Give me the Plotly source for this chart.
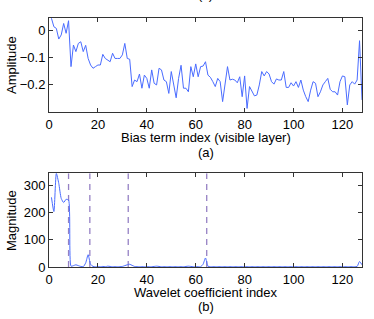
import plotly.graph_objects as go
from plotly.subplots import make_subplots

bias_index = list(range(1, 129))
amplitude = [
    0.043, 0.012, 0.006, -0.033, -0.018, 0.024, -0.012, 0.034, -0.134, -0.055,
    -0.079, -0.049, -0.043, -0.079, -0.056, -0.104, -0.128, -0.140, -0.134, -0.128,
    -0.128, -0.089, -0.104, -0.110, -0.116, -0.085, -0.104, -0.104, -0.104, -0.091,
    -0.049, -0.104, -0.107, -0.207, -0.183, -0.189, -0.161, -0.213, -0.165, -0.177,
    -0.213, -0.146, -0.195, -0.201, -0.140, -0.146, -0.183, -0.189, -0.232, -0.152,
    -0.201, -0.248, -0.177, -0.129, -0.213, -0.213, -0.226, -0.134, -0.171, -0.124,
    -0.171, -0.134, -0.132, -0.116, -0.165, -0.173, -0.189, -0.207, -0.177, -0.189,
    -0.262, -0.189, -0.134, -0.183, -0.180, -0.183, -0.193, -0.171, -0.244, -0.168,
    -0.287, -0.207, -0.226, -0.241, -0.238, -0.201, -0.152, -0.168, -0.152, -0.161,
    -0.189, -0.198, -0.179, -0.183, -0.183, -0.152, -0.210, -0.210, -0.193, -0.205,
    -0.189, -0.210, -0.183, -0.220, -0.244, -0.262, -0.220, -0.189, -0.195, -0.244,
    -0.226, -0.201, -0.189, -0.177, -0.217, -0.226, -0.226, -0.238, -0.189, -0.168,
    -0.171, -0.274, -0.201, -0.189, -0.198, -0.183, -0.039, -0.256,
]

coef_index = list(range(1, 129))
magnitude = [
    255, 203, 343, 306, 251, 236, 248, 245, 3, 5,
    8, 5, 2, 1, 15, 45, 10, 2, 1, 1,
    1, 2, 1, 3, 2, 1, 1, 1, 1, 2,
    5, 8, 10, 6, 2, 1, 1, 1, 1, 1,
    1, 1, 2, 3, 2, 1, 1, 1, 1, 1,
    1, 1, 1, 1, 1, 2, 3, 2, 1, 1,
    1, 1, 10, 33, 3, 1, 1, 1, 1, 1,
    1, 1, 1, 1, 1, 1, 1, 1, 1, 1,
    1, 1, 1, 1, 1, 1, 1, 1, 1, 1,
    1, 1, 1, 1, 1, 1, 1, 1, 1, 1,
    1, 1, 1, 1, 1, 1, 1, 1, 1, 1,
    1, 1, 1, 1, 1, 1, 1, 1, 1, 1,
    1, 1, 1, 1, 1, 2, 20, 8,
]

level_bounds = [8, 16.7, 32.4, 64.5]

x_ticks = [0, 20, 40, 60, 80, 100, 120]
amp_ticks = [0, -0.1, -0.2]
amp_tick_labels = ["0", "\u22120.1", "\u22120.2"]
mag_ticks = [0, 100, 200, 300]

LINE = "#4a6cff"
DASH = "#9580c4"
AX = "#333333"
FONT = "Liberation Sans, Arial, sans-serif"

W, H = 374, 319
ML, MR, MT, MB = 49, 12, 18, 52
PW, PH = W - ML - MR, H - MT - MB


def px(x):
    return (x - ML) / PW


def py(y):
    return 1 - (y - MT) / PH


fig = make_subplots(rows=2, cols=1, vertical_spacing=0.0)

fig.add_trace(go.Scatter(x=bias_index, y=amplitude, mode="lines",
                         line=dict(color=LINE, width=1), showlegend=False), row=1, col=1)

for xb in level_bounds:
    fig.add_trace(go.Scatter(x=[xb, xb], y=[0, 343], mode="lines",
                             line=dict(color=DASH, width=1.3, dash="6px,5px"),
                             showlegend=False), row=2, col=1)

fig.add_trace(go.Scatter(x=coef_index, y=magnitude, mode="lines",
                         line=dict(color=LINE, width=1, shape="spline", smoothing=0.6),
                         showlegend=False), row=2, col=1)

axis_common = dict(showline=True, linecolor=AX, linewidth=1, mirror="ticks",
                   ticks="inside", ticklen=4, tickcolor=AX, showgrid=False,
                   zeroline=False, automargin=False,
                   tickfont=dict(family=FONT, size=13, color="#000"))

fig.update_xaxes(range=[0, 128], tickvals=x_ticks, **axis_common)
fig.update_yaxes(**axis_common)
fig.update_yaxes(range=[-0.3, 0.044], tickvals=amp_ticks, ticktext=amp_tick_labels,
                 row=1, col=1)
fig.update_yaxes(range=[0, 343], tickvals=mag_ticks, row=2, col=1)

tf = dict(family=FONT, size=13, color="#000")
ann = [
    dict(text="Bias term index (visible layer)", x=px(205.5), y=py(137)),
    dict(text="(a)", x=px(205.5), y=py(152.5)),
    dict(text="Wavelet coefficient index", x=px(205.5), y=py(292.5)),
    dict(text="(b)", x=px(205.5), y=py(306.5)),
    dict(text="Amplitude", x=px(11), y=py(65), textangle=-90),
    dict(text="Magnitude", x=px(11), y=py(221), textangle=-90),
]
annotations = []
for a in ann:
    a.update(xref="paper", yref="paper", xanchor="center", yanchor="middle",
             showarrow=False, font=tf)
    annotations.append(a)
annotations.append(dict(text="(c)", x=px(205.5), y=py(4), xref="paper", yref="paper",
                        xanchor="center", yanchor="bottom", showarrow=False, font=tf))

fig.update_layout(
    width=W, height=H,
    margin=dict(l=ML, r=MR, t=MT, b=MB),
    paper_bgcolor="white", plot_bgcolor="white",
    font=dict(family=FONT, size=13, color="#000"),
    xaxis=dict(domain=[0, 1]), yaxis=dict(domain=[py(112), 1]),
    xaxis2=dict(domain=[0, 1]), yaxis2=dict(domain=[0, py(173.3)]),
    annotations=annotations,
)

fig.write_html("out.html",
               config={"displayModeBar": False},
               post_script="document.body.style.margin='0';"
                           "document.body.style.padding='0';"
                           "document.documentElement.style.overflow='hidden';")
